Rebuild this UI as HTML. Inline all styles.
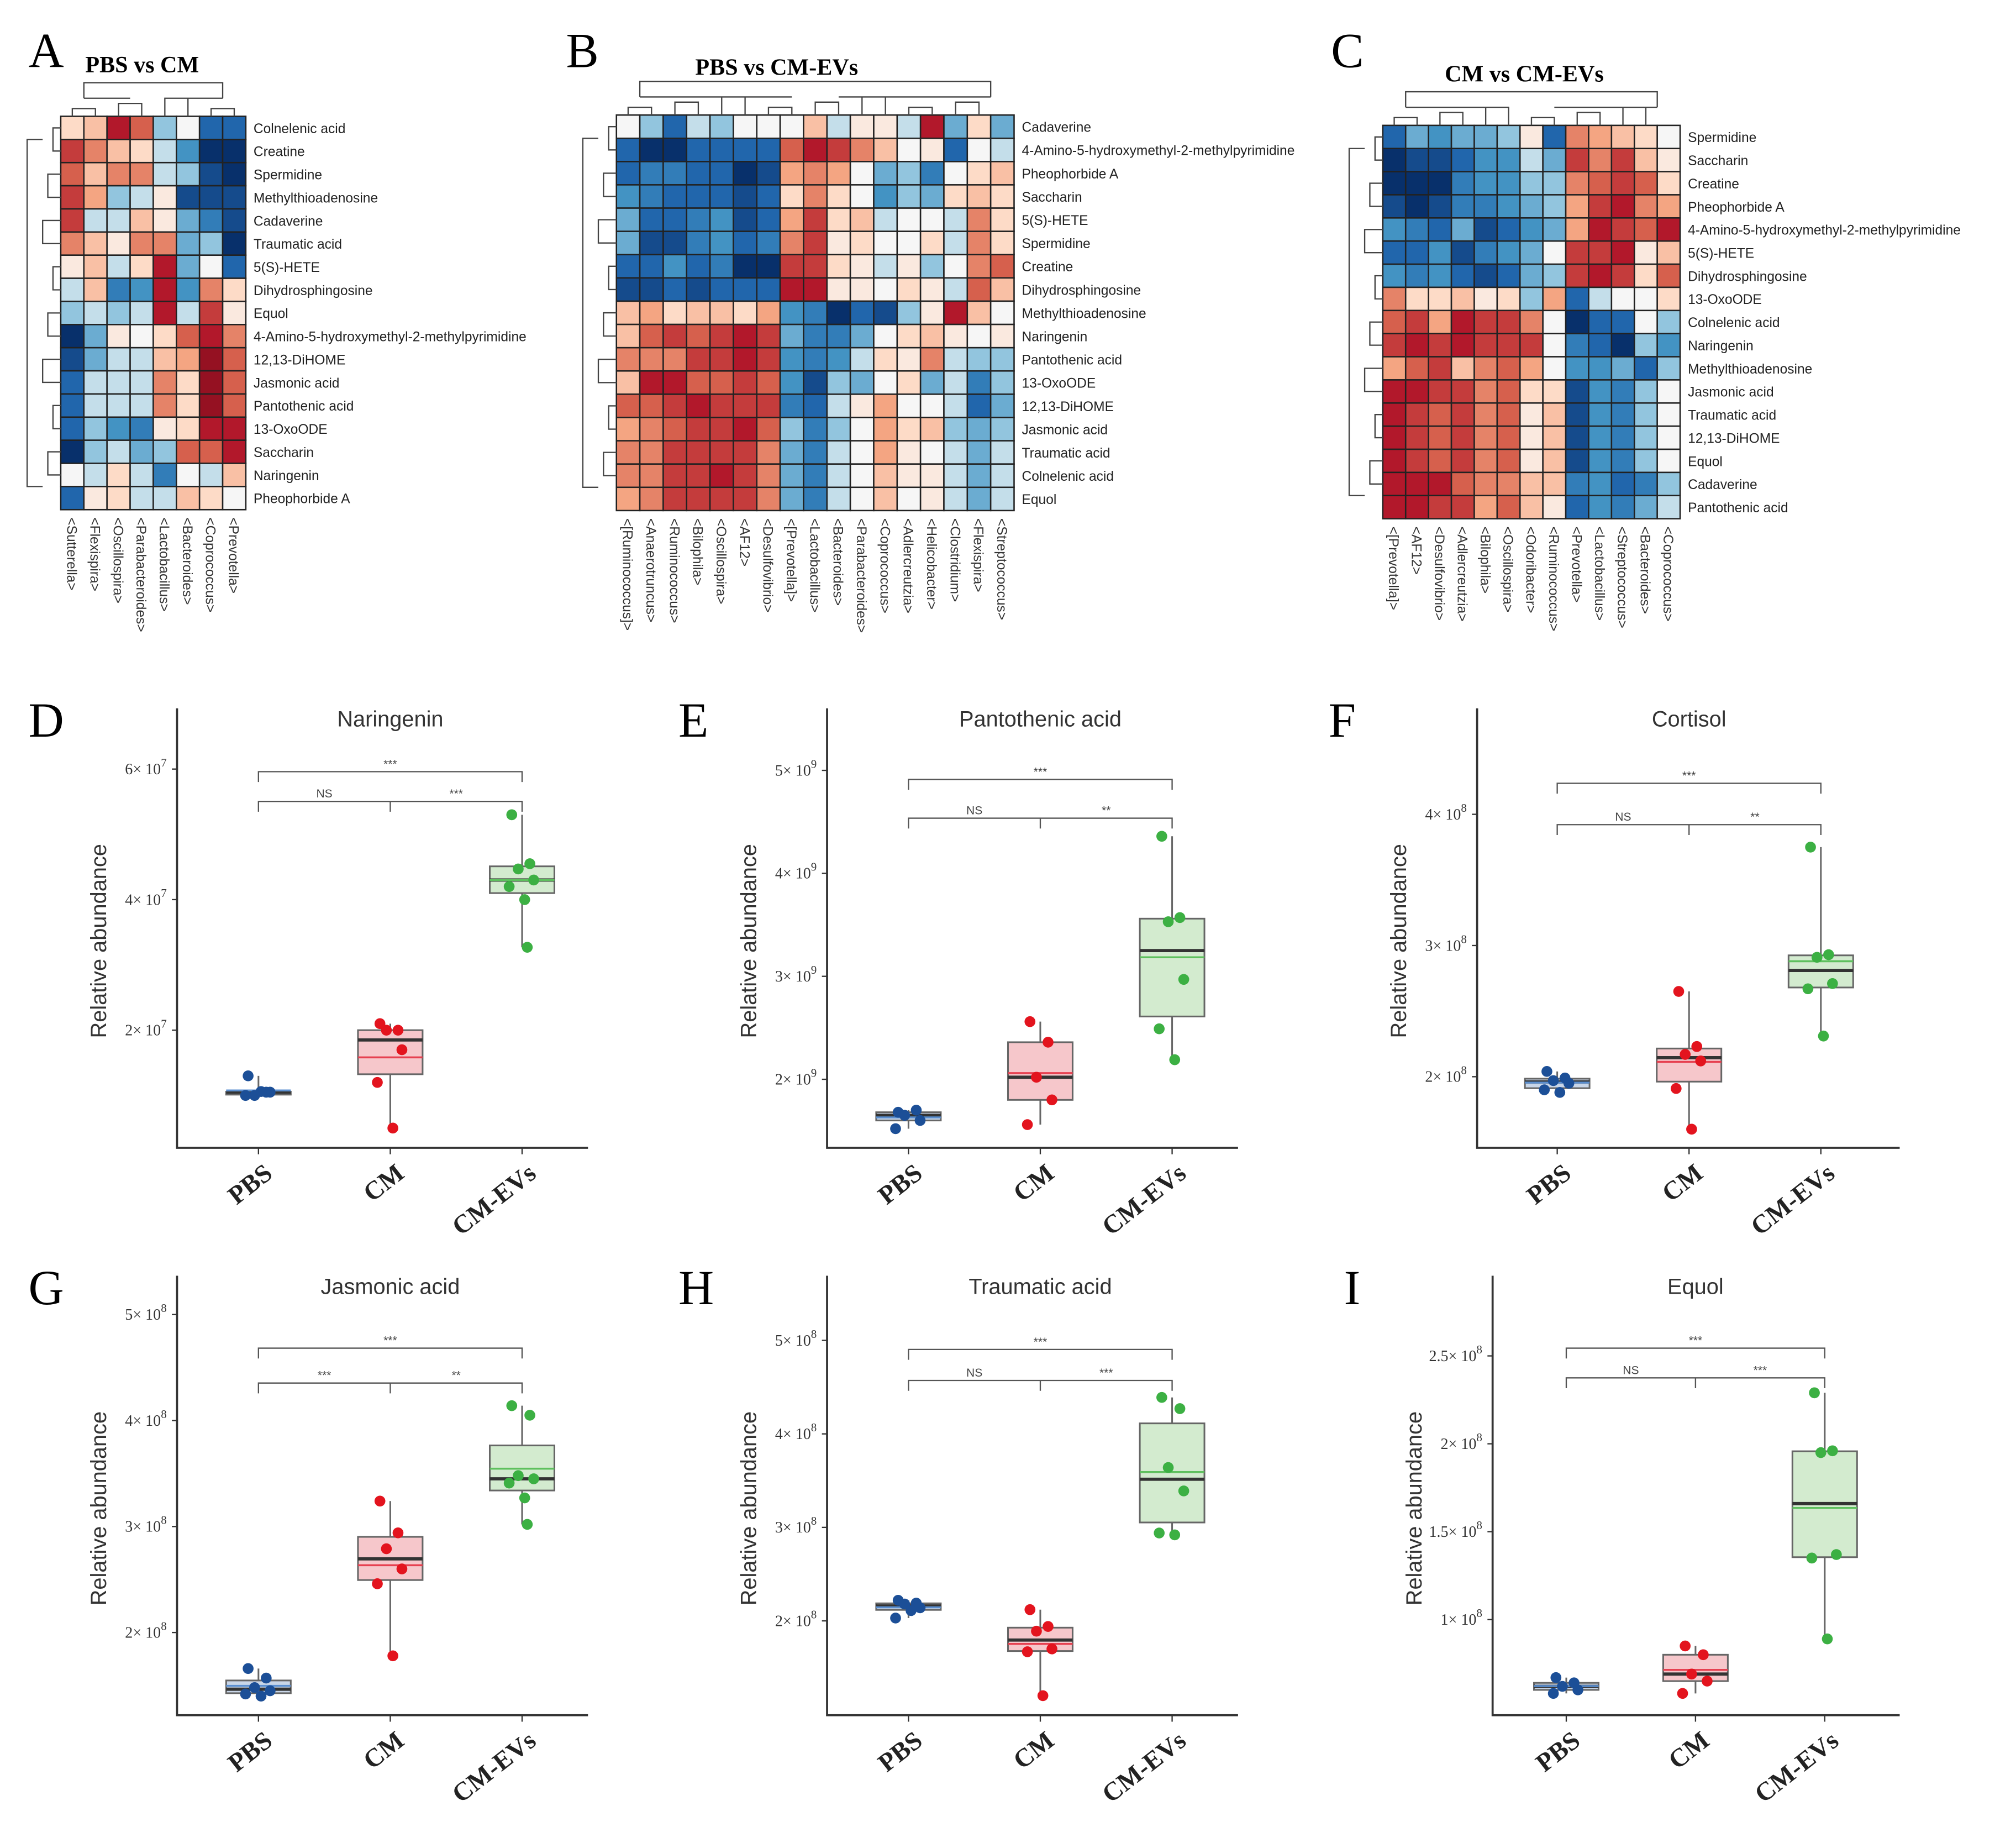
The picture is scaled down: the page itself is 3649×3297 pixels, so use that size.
<!DOCTYPE html>
<html><head><meta charset="utf-8"><style>
html,body{margin:0;padding:0;background:#fff;}
svg{display:block;}
</style></head><body>
<svg id="fig" xmlns="http://www.w3.org/2000/svg" width="3649" height="3297" viewBox="0 0 1560 1409.6" preserveAspectRatio="none">
<rect x="0" y="0" width="1560" height="1409.6" fill="#fff"/>
<g id="root"></g>
</svg>
<script>
// ---------- Heatmap data ----------
const aRows=['Colnelenic acid','Creatine','Spermidine','Methylthioadenosine','Cadaverine','Traumatic acid','5(S)-HETE','Dihydrosphingosine','Equol','4-Amino-5-hydroxymethyl-2-methylpyrimidine','12,13-DiHOME','Jasmonic acid','Pantothenic acid','13-OxoODE','Saccharin','Naringenin','Pheophorbide A'];
const aCols=['<Sutterella>','<Flexispira>','<Oscillospira>','<Parabacteroides>','<Lactobacillus>','<Bacteroides>','<Coprococcus>','<Prevotella>'];
const aVals=[
[1,1.5,4,3,-1,0,-3,-3],[3.5,2.5,1.5,1,-0.5,-2,-4,-4],[3,1.5,2.5,2.5,-0.5,-1,-3.5,-4],[3.5,2,-1,-0.5,0.5,-3.5,-3.5,-3.5],
[3.5,-0.5,-0.5,1.5,0.5,-1.5,-2.5,-3.5],[2.5,1.5,0.5,2.5,2.5,-1.5,-1,-4],[0.5,1.5,-0.5,1,4,-1.5,0,-3],[-0.5,1.5,-2.5,-2,4,-2,2.5,1],
[-1,-0.5,-1,-0.5,4,-0.5,3.5,0.5],[-4,-1.5,0.5,0,1,3,4,2.5],[-3.5,-1.5,-0.5,-0.5,1.5,2,4.5,3],[-3,-0.5,-0.5,-0.5,2.5,1,4.5,3],
[-3,-0.5,-0.5,-0.5,2.5,1,4.5,3],[-3,-1,-2,-2.5,0.5,1,4,4],[-4,-1,-0.5,-1.5,-1,3,3,4],[0,-0.5,1,-0.5,-2.5,0,-0.5,1.5],[-3,0.5,1,-0.5,-0.5,1.5,1,0]];
const bRows=['Cadaverine','4-Amino-5-hydroxymethyl-2-methylpyrimidine','Pheophorbide A','Saccharin','5(S)-HETE','Spermidine','Creatine','Dihydrosphingosine','Methylthioadenosine','Naringenin','Pantothenic acid','13-OxoODE','12,13-DiHOME','Jasmonic acid','Traumatic acid','Colnelenic acid','Equol'];
const bCols=['<[Ruminococcus]>','<Anaerotruncus>','<Ruminococcus>','<Bilophila>','<Oscillospira>','<AF12>','<Desulfovibrio>','<[Prevotella]>','<Lactobacillus>','<Bacteroides>','<Parabacteroides>','<Coprococcus>','<Adlercreutzia>','<Helicobacter>','<Clostridium>','<Flexispira>','<Streptococcus>'];
const bVals=[
[0,-1,-3,-0.5,-1,0,0,0,1.5,-0.5,0.5,0.5,-0.5,4,-1.5,1,-1.5],
[-3,-4,-4,-3,-3,-3,-3,3,4,3.5,2.5,1.5,0,0.5,-3,0,-0.5],
[-3,-2.5,-2.5,-3,-3,-4,-3.5,2,2.5,2,0,-1.5,-1,-2.5,0,1,1.5],
[-2,-2.5,-3,-3,-3,-3.5,-3,1,2.5,1,0,-2,-1,-1.5,1,1.5,1],
[-1.5,-3,-3,-2.5,-2,-3.5,-3,2,3.5,1,1.5,-0.5,0,0,-0.5,2.5,1],
[-1.5,-3.5,-3.5,-2.5,-2,-3,-2.5,2.5,3.5,0.5,1,0,0,1,-0.5,2.5,1],
[-3,-3,-2,-3,-2.5,-4,-4,3.5,3.5,1,0.5,-0.5,0.5,-1,0,2.5,3],
[-3.5,-3.5,-3,-3.5,-3,-3,-3,4,4,0.5,0.5,0,1,0.5,-0.5,3,1.5],
[1.5,2,1,1.5,1.5,1,2,-2,-2.5,-4,-3,-3.5,-1,0.5,4,1.5,0],
[1.5,3,3.5,3,3.5,4,3.5,-1.5,-2.5,-2.5,-1.5,0,1,1.5,0.5,0,0.5],
[2.5,2.5,2.5,3.5,3.5,4,3.5,-2,-2.5,-2,-0.5,1,0.5,2.5,-0.5,-1,-1],
[1.5,4,4,3,3,3.5,3,-2,-3.5,-1,-1.5,0,1,-1.5,-0.5,-2.5,-1],
[3,3,3.5,4,3.5,3.5,3.5,-2.5,-3,-0.5,0.5,2,0,0,-0.5,-3,-1.5],
[2,2.5,3,3.5,3.5,4,3,-1,-2.5,-1,0,2,1,1.5,-1,-1.5,-1],
[2.5,2.5,3.5,3.5,3.5,3.5,2.5,-1.5,-2.5,-0.5,0,2,0.5,0,-0.5,-1.5,-0.5],
[2.5,2.5,3.5,3.5,4,3.5,2.5,-1.5,-2.5,-0.5,0,1.5,0.5,0.5,-0.5,-1.5,-0.5],
[2,2.5,3.5,3.5,3.5,3.5,2.5,-1.5,-2.5,-0.5,0,1.5,0,0.5,-0.5,-1.5,-0.5]];
const cRows=['Spermidine','Saccharin','Creatine','Pheophorbide A','4-Amino-5-hydroxymethyl-2-methylpyrimidine','5(S)-HETE','Dihydrosphingosine','13-OxoODE','Colnelenic acid','Naringenin','Methylthioadenosine','Jasmonic acid','Traumatic acid','12,13-DiHOME','Equol','Cadaverine','Pantothenic acid'];
const cCols=['<[Prevotella]>','<AF12>','<Desulfovibrio>','<Adlercreutzia>','<Bilophila>','<Oscillospira>','<Odoribacter>','<Ruminococcus>','<Prevotella>','<Lactobacillus>','<Streptococcus>','<Bacteroides>','<Coprococcus>'];
const cVals=[
[-3,-1.5,-2,-1.5,-1.5,-1,0.5,-3,2.5,2,1.5,1,0],
[-4,-3.5,-3.5,-3,-2,-2,-0.5,-1.5,3.5,2.5,3.5,1.5,0.5],
[-4,-4,-4,-2.5,-2,-2,-1,-1,2.5,3,3.5,3,1],
[-3.5,-4,-3.5,-2.5,-2.5,-2,-1.5,-1,2,3.5,4,2.5,2],
[-2,-2.5,-3,-1.5,-3.5,-3,-2,-1.5,2,4,3.5,3,4],
[-3,-3,-2,-3.5,-2.5,-2,-1.5,0,3.5,3.5,4,0.5,1.5],
[-2,-2.5,-2,-3,-3.5,-3,-1.5,-1,3.5,4,3.5,1,3],
[2.5,1,1,1.5,0.5,1,-1,2,-3,-0.5,0,0,1],
[3,3.5,2,4,3.5,3.5,2.5,0,-4,-3,-3,0,-1],
[3.5,4,3.5,4,3.5,3.5,3.5,0,-2.5,-3,-4,-1,-2],
[2,3,3.5,1.5,2.5,3,2,0,-2,-2,-1.5,-3,-1],
[4,4,3.5,3.5,2.5,3,1,1,-3.5,-2,-2.5,-1,0],
[4,3.5,3,3.5,2.5,3,0.5,1.5,-3.5,-2,-2.5,-1,0],
[4,3.5,3,3.5,2.5,3,0.5,1.5,-3.5,-2,-2.5,-1,0],
[4,3.5,3,3.5,2.5,3,0.5,1.5,-3.5,-2,-2.5,-1,0],
[4,4,4,3,2.5,2.5,1.5,1.5,-2.5,-2,-3,-2.5,-1],
[4,4,3.5,3.5,2,3,1.5,0.5,-3,-2,-2.5,-1.5,-0.5]];

// ---------- Boxplot data (values in units of 10^exp) ----------
const groups=['PBS','CM','CM-EVs'];
const narPBS=[1.3,1.05,1.0,1.05,1.0,1.06];
const narCM=[2.1,2.0,2.0,1.7,1.2,0.5];
const narEV=[5.3,4.55,4.47,4.3,4.2,4.0,3.27];
const panPBS=[1.68,1.7,1.65,1.6,1.52];
const panCM=[2.56,2.36,2.02,1.8,1.56];
const panEV=[4.36,3.57,3.53,2.97,2.49,2.19];
const corPBS=[2.04,1.99,1.97,1.95,1.9,1.88];
const corCM=[2.65,2.23,2.17,2.12,1.91,1.6];
const corEV=[3.75,2.93,2.91,2.71,2.67,2.31];
const jasPBS=[1.66,1.57,1.48,1.45,1.42,1.4];
const jasCM=[3.24,2.94,2.79,2.6,2.46,1.78];
const jasEV=[4.14,4.05,3.48,3.45,3.41,3.27,3.02];
const traPBS=[2.22,2.19,2.18,2.14,2.03,2.11];
const traCM=[2.12,1.94,1.89,1.7,1.67,1.2];
const traEV=[4.39,4.27,3.64,3.39,2.94,2.92];
const equPBS=[0.67,0.64,0.62,0.6,0.58];
const equCM=[0.85,0.8,0.69,0.65,0.58];
const equEV=[2.29,1.96,1.95,1.37,1.35,0.89];
const narTicks=[2,4,6], panTicks=[2,3,4,5], corTicks=[2,3,4], jasTicks=[2,3,4,5], traTicks=[2,3,4,5], equTicks=[1,1.5,2,2.5];
const narSig=['***','NS','***'], panSig=['***','NS','**'], corSig=['***','NS','**'], jasSig=['***','***','**'], traSig=['***','NS','***'], equSig=['***','NS','***'];

const NS='http://www.w3.org/2000/svg';
const root=document.getElementById('root');
function mk(tag,attrs,parent){const e=document.createElementNS(NS,tag);for(const k in attrs)e.setAttribute(k,attrs[k]);(parent||root).appendChild(e);return e;}
function txt(s,attrs,parent){const e=mk('text',attrs,parent);e.textContent=s;return e;}

function lerp(a,b,t){return a+(b-a)*t;}
const stops=[[-4,[8,48,107]],[-3,[33,102,172]],[-2,[67,147,195]],[-1,[146,197,222]],[0,[246,246,246]],[1,[253,219,199]],[2,[244,165,130]],[3,[214,96,77]],[4,[178,24,43]],[5,[120,10,25]]];
function color(v){v=Math.max(-4,Math.min(5,v));for(let i=0;i<stops.length-1;i++){const[a,ca]=stops[i],[b,cb]=stops[i+1];if(v>=a&&v<=b){const t=(v-a)/(b-a);return 'rgb('+ca.map((c,j)=>Math.round(lerp(c,cb[j],t))).join(',')+')';}}return '#fff';}

function heatmap(name,rows,cols,vals,x0,y0,cw,rh,title,letter,lx,ly,tx,ty){
  const g=mk('g',{});
  
  
  const L=txt(letter,{x:lx,y:ly,'font-family':'Liberation Serif, serif','font-size':38},g);
  
  
  const T=txt(title,{x:tx,y:ty,'font-family':'Liberation Serif, serif','font-size':18,'font-weight':'bold'},g);
  
  
  vals.forEach((r,i)=>r.forEach((v,j)=>{
    const c=mk('rect',{x:x0+j*cw,y:y0+i*rh,width:cw,height:rh,fill:color(v),stroke:'#222','stroke-width':1.1},g);
    
    
  }));
  rows.forEach((r,i)=>{
    const t=txt(r,{x:x0+cols.length*cw+6,y:y0+i*rh+rh/2+4,'font-family':'Liberation Sans, sans-serif','font-size':10.5,fill:'#222'},g);
    
    
  });
  cols.forEach((c,j)=>{
    const x=x0+j*cw+cw/2-4, y=y0+rows.length*rh+6;
    const t=txt(c,{x:x,y:y,transform:'rotate(90 '+x+' '+y+')','font-family':'Liberation Sans, sans-serif','font-size':10.5,fill:'#333'},g);
    
    
  });
  // simple dendrograms (decorative)
  const W=cols.length*cw,H=rows.length*rh;
  const dp=[];
  for(let j=0;j<cols.length-1;j+=2){const xa=x0+j*cw+cw/2,xb=x0+(j+1)*cw+cw/2,h=y0-6-((j/2)%3)*4;dp.push(`M${xa},${y0} V${h} H${xb} V${y0}`);}
  dp.push(`M${x0+cw},${y0-14} V${y0-26} H${x0+W-cw} V${y0-14}`);
  dp.push(`M${x0+cw},${y0-14} H${x0+W/2-cw}`);dp.push(`M${x0+W/2+cw},${y0-14} H${x0+W-cw}`);
  for(let i=0;i<rows.length-1;i+=2){const ya=y0+i*rh+rh/2,yb=y0+(i+1)*rh+rh/2,w=x0-6-((i/2)%3)*4;dp.push(`M${x0},${ya} H${w} V${yb} H${x0}`);}
  dp.push(`M${x0-14},${y0+rh} H${x0-26} V${y0+H-rh} H${x0-14}`);
  const d=mk('path',{d:dp.join(' '),fill:'none',stroke:'#444','stroke-width':1},g);
  
  
}
heatmap('heatmap-pbs-vs-cm',aRows,aCols,aVals,47,90,17.9,17.9,'PBS vs CM','A',22,52,66,56);
heatmap('heatmap-pbs-vs-cmevs',bRows,bCols,bVals,477,89,18.1,18.0,'PBS vs CM-EVs','B',438,52,538,58);
heatmap('heatmap-cm-vs-cmevs',cRows,cCols,cVals,1070,97,17.7,17.9,'CM vs CM-EVs','C',1030,52,1118,63);

function quant(a,p){const s=[...a].sort((x,y)=>x-y);const h=(s.length-1)*p,lo=Math.floor(h),hi=Math.ceil(h);return s[lo]+(s[hi]-s[lo])*(h-lo);}
const gFill=['#c9d6e8','#f6c7cb','#d3ebcf'], gPt=['#1c4f97','#e3141e','#3cb043'], gMean=['#5b8fd0','#e64050','#5ec05e'];
const jit=[-8,6,-3,9,-10,2,4];

function boxpanel(name,letter,title,data,ticks,exp,sig,ax,bottom,top,right,cx,v1,y1,v2,y2,brTop,brLow){
  const g=mk('g',{});
  
  
  const ys=v=>y1+(v-v1)*(y2-y1)/(v2-v1);
  const L=txt(letter,{x:ax-115,y:top+22,'font-family':'Liberation Serif, serif','font-size':38},g);
  
  
  const T=txt(title,{x:cx[1],y:top+14,'text-anchor':'middle','font-family':'Liberation Sans, sans-serif','font-size':17,fill:'#333'},g);
  
  
  const axes=mk('path',{d:`M${ax},${top} V${bottom} H${right}`,fill:'none',stroke:'#333','stroke-width':1.6},g);
  
  
  ticks.forEach(t=>{
    const y=ys(t);
    mk('line',{x1:ax-4,x2:ax,y1:y,y2:y,stroke:'#333','stroke-width':1},g);
    const tl=txt('',{x:ax-8,y:y+4,'text-anchor':'end','font-family':'Liberation Serif, serif','font-size':12,fill:'#333'},g);
    
    
    const a=document.createElementNS(NS,'tspan');a.textContent=t+'× 10';tl.appendChild(a);
    const b=document.createElementNS(NS,'tspan');b.setAttribute('dy','-6');b.setAttribute('font-size','9');b.textContent=exp;tl.appendChild(b);
  });
  const yt=txt('Relative abundance',{x:ax-55,y:(top+bottom)/2+10,transform:`rotate(-90 ${ax-55} ${(top+bottom)/2+10})`,'text-anchor':'middle','font-family':'Liberation Sans, sans-serif','font-size':17,fill:'#333'},g);
  
  
  groups.forEach((gn,i)=>{
    const x=cx[i];
    mk('line',{x1:x,x2:x,y1:bottom,y2:bottom+5,stroke:'#333'},g);
    const xl=txt(gn,{x:x+12,y:bottom+22,transform:`rotate(-38 ${x+12} ${bottom+22})`,'text-anchor':'end','font-family':'Liberation Serif, serif','font-size':20,'font-weight':'bold',fill:'#222'},g);
    
    
    const d=data[i];
    const q1=quant(d,0.25),q3=quant(d,0.75),md=quant(d,0.5),mn=Math.min(...d),mx=Math.max(...d),mean=d.reduce((a,b)=>a+b,0)/d.length;
    const bw=25;
    const wk=mk('line',{x1:x,x2:x,y1:ys(mx),y2:ys(mn),stroke:'#666','stroke-width':1.3},g);
    
    
    const bx=mk('rect',{x:x-bw,y:ys(q3),width:2*bw,height:Math.max(ys(q1)-ys(q3),2),fill:gFill[i],stroke:'#666','stroke-width':1.3},g);
    
    
    const ml=mk('line',{x1:x-bw,x2:x+bw,y1:ys(md),y2:ys(md),stroke:'#333','stroke-width':2.5},g);
    
    
    const me=mk('line',{x1:x-bw,x2:x+bw,y1:ys(mean),y2:ys(mean),stroke:gMean[i],'stroke-width':1.5},g);
    
    
    d.forEach((v,k)=>{
      const p=mk('circle',{cx:x+jit[k%jit.length],cy:ys(v),r:4.2,fill:gPt[i]},g);
      
      
    });
  });
  const br=mk('path',{d:`M${cx[0]},${brTop+8} V${brTop} H${cx[2]} V${brTop+8} M${cx[0]},${brLow+8} V${brLow} H${cx[2]} V${brLow+8} M${cx[1]},${brLow} V${brLow+8}`,fill:'none',stroke:'#555','stroke-width':1},g);
  
  
  [[cx[1],brTop-3,sig[0]],[(cx[0]+cx[1])/2,brLow-3,sig[1]],[(cx[1]+cx[2])/2,brLow-3,sig[2]]].forEach(s=>{
    const t=txt(s[2],{x:s[0],y:s[1],'text-anchor':'middle','font-family':'Liberation Sans, sans-serif','font-size':9,fill:'#444'},g);
    
    
  });
}
boxpanel('boxplot-naringenin','D','Naringenin',[narPBS,narCM,narEV],narTicks,7,narSig,137,888,548,455,[200,302,404],2,797,6,595,597,620);
boxpanel('boxplot-pantothenic-acid','E','Pantothenic acid',[panPBS,panCM,panEV],panTicks,9,panSig,640,888,548,958,[703,805,907],2,835,5,596,603,633);
boxpanel('boxplot-cortisol','F','Cortisol',[corPBS,corCM,corEV],corTicks,8,corSig,1143,888,548,1470,[1205,1307,1409],2,833,4,630,606,638);
boxpanel('boxplot-jasmonic-acid','G','Jasmonic acid',[jasPBS,jasCM,jasEV],jasTicks,8,jasSig,137,1327,987,455,[200,302,404],2,1263,5,1017,1043,1070);
boxpanel('boxplot-traumatic-acid','H','Traumatic acid',[traPBS,traCM,traEV],traTicks,8,traSig,640,1327,987,958,[703,805,907],2,1254,5,1037,1044,1068);
boxpanel('boxplot-equol','I','Equol',[equPBS,equCM,equEV],equTicks,8,equSig,1155,1327,987,1470,[1212,1312,1412],1,1253,2,1117,1043,1066);
</script>
</body></html>
